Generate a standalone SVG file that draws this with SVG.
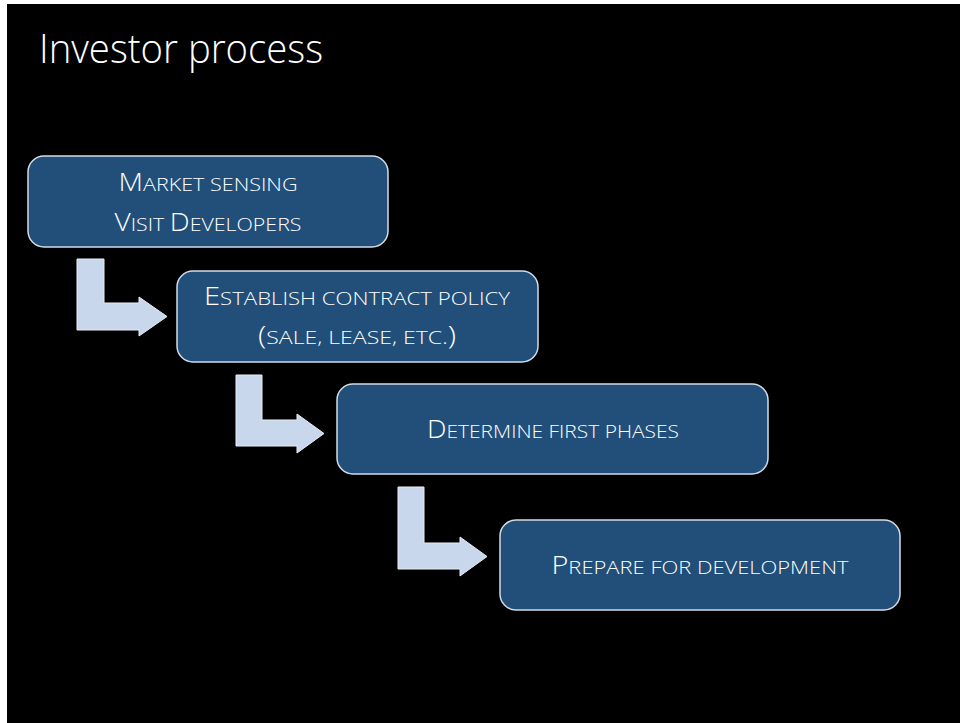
<svg xmlns="http://www.w3.org/2000/svg" width="960" height="723" viewBox="0 0 960 723">
  <style>
    .box { fill: #214f79; stroke: #d4dce6; stroke-width: 1.5; }
    .arrow { fill: #c8d7ec; stroke: #e8eef6; stroke-width: 1; stroke-linejoin: miter; }
    .lbl { font-family: "Open Sans", "Liberation Sans", sans-serif; font-weight: 300; fill: #ffffff; text-anchor: middle; }
    .cap { font-size: 25px; }
    .sc { font-size: 19px; }
    .title { font-family: "Open Sans", "Liberation Sans", sans-serif; font-weight: 300; font-size: 41px; fill: #ffffff; }
  </style>

  <!-- slide background -->
  <rect x="0" y="0" width="960" height="723" fill="#ffffff"/>
  <rect x="7" y="4" width="953" height="719" fill="#000000"/>

  <text class="title" x="39" y="63" textLength="284" lengthAdjust="spacingAndGlyphs">Investor process</text>

  <!-- bent arrows between steps -->
  <g id="connectors">
    <polygon class="arrow" points="77,259 104,259 104,303 139,303 139,297 167,316.5 139,336 139,330 77,330"/>
    <polygon class="arrow" points="236,375 262,375 262,420 297,420 297,414 324,433.5 297,453 297,446 236,446"/>
    <polygon class="arrow" points="398,487 424,487 424,543 460,543 460,537 487,556.5 460,576 460,569 398,569"/>
  </g>

  <g id="step-market">
    <rect class="box" x="28" y="156" width="360" height="91" rx="16"/>
    <text class="lbl" x="208" y="191" textLength="179" lengthAdjust="spacingAndGlyphs"><tspan class="cap">M</tspan><tspan class="sc">ARKET SENSING</tspan></text>
    <text class="lbl" x="208" y="231" textLength="187" lengthAdjust="spacingAndGlyphs"><tspan class="cap">V</tspan><tspan class="sc">ISIT </tspan><tspan class="cap">D</tspan><tspan class="sc">EVELOPERS</tspan></text>
  </g>

  <g id="step-contract">
    <rect class="box" x="177" y="271" width="361" height="91" rx="16"/>
    <text class="lbl" x="357" y="305" textLength="306" lengthAdjust="spacingAndGlyphs"><tspan class="cap">E</tspan><tspan class="sc">STABLISH CONTRACT POLICY</tspan></text>
    <text class="lbl" x="357" y="344" textLength="198" lengthAdjust="spacingAndGlyphs"><tspan class="cap">(</tspan><tspan class="sc">SALE, LEASE, ETC.</tspan><tspan class="cap">)</tspan></text>
  </g>

  <g id="step-phases">
    <rect class="box" x="337" y="384" width="431" height="90" rx="16"/>
    <text class="lbl" x="553" y="438" textLength="252" lengthAdjust="spacingAndGlyphs"><tspan class="cap">D</tspan><tspan class="sc">ETERMINE FIRST PHASES</tspan></text>
  </g>

  <g id="step-prepare">
    <rect class="box" x="500" y="520" width="400" height="90" rx="16"/>
    <text class="lbl" x="700" y="574" textLength="297" lengthAdjust="spacingAndGlyphs"><tspan class="cap">P</tspan><tspan class="sc">REPARE FOR DEVELOPMENT</tspan></text>
  </g>
</svg>
